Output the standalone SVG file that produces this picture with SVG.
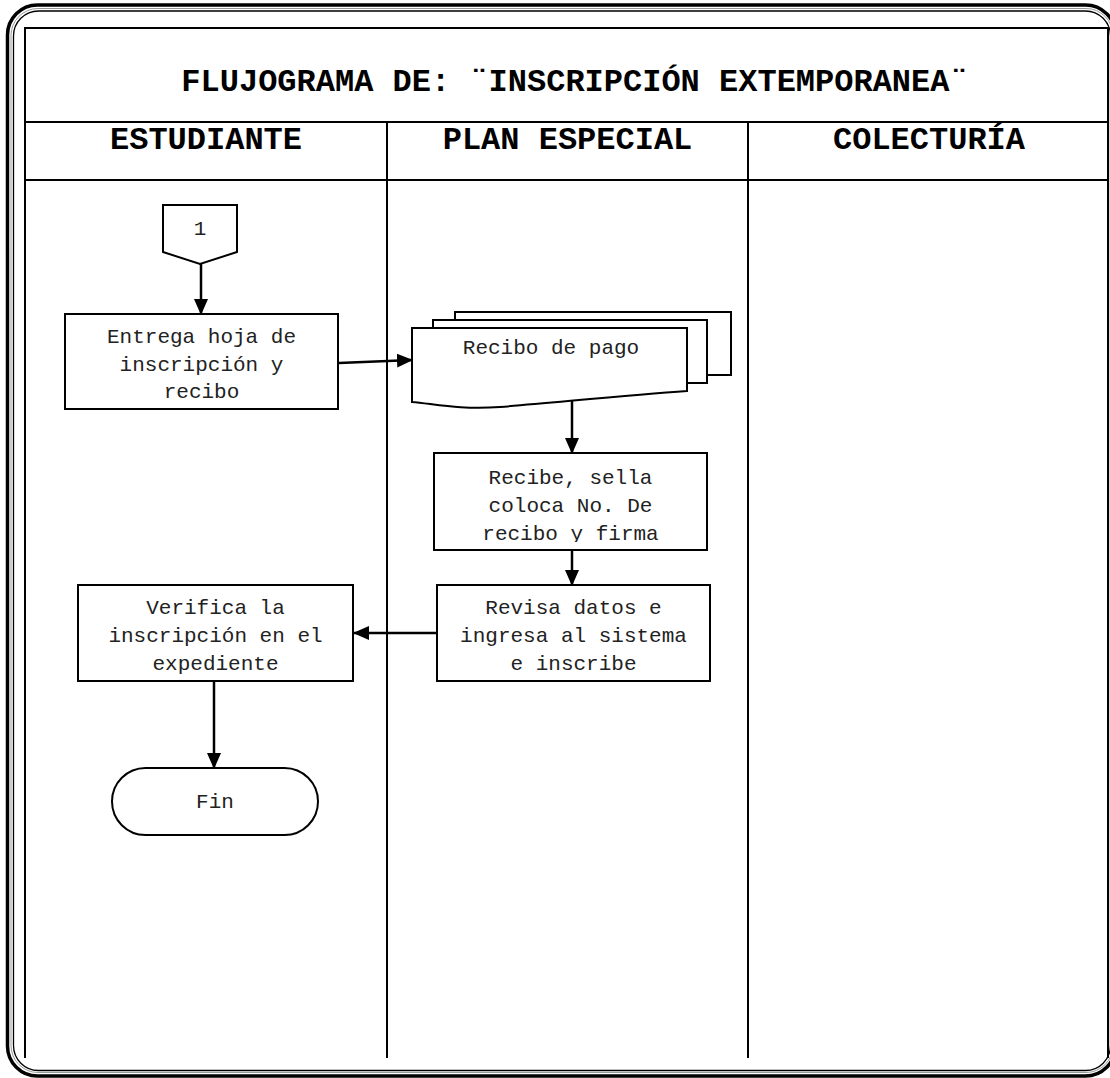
<svg xmlns="http://www.w3.org/2000/svg" width="1110" height="1078" viewBox="0 0 1110 1078">
  <style>
    .frame-outer { fill: none; stroke: #000; stroke-width: 3.5; }
    .frame-mid { fill: none; stroke: #999; stroke-width: 1; }
    .frame-inner { fill: none; stroke: #000; stroke-width: 1.3; }
    .grid { stroke: #000; stroke-width: 2; fill: none; }
    .box { fill: #fff; stroke: #000; stroke-width: 2; }
    .conn { fill: none; stroke: #000; stroke-width: 2.5; }
    .title { font-family: "Liberation Mono", "DejaVu Sans Mono", monospace; font-weight: bold; font-size: 32px; fill: #000; text-anchor: middle; }
    .label { font-family: "Liberation Mono", "DejaVu Sans Mono", monospace; font-size: 21px; fill: #222; text-anchor: middle; }
  </style>
  <defs>
    <marker id="arrow" markerUnits="userSpaceOnUse" markerWidth="16" markerHeight="16" viewBox="0 0 16 16" refX="15" refY="8" orient="auto">
      <path d="M0,1 L16,8 L0,15 Z" fill="#000"/>
    </marker>
    <clipPath id="clip-recibe"><rect x="434" y="453" width="273" height="89"/></clipPath>
    <clipPath id="clip-verifica"><rect x="78" y="585" width="275" height="90"/></clipPath>
  </defs>

  <rect width="1110" height="1078" fill="#fff"/>

  <!-- page border: double rounded frame, running off the right edge -->
  <rect class="frame-outer" x="7.5" y="5" width="1108" height="1071" rx="30" ry="30"/>
  <rect class="frame-mid" x="11" y="8.5" width="1102" height="1064" rx="27" ry="27"/>
  <rect class="frame-inner" x="13.5" y="11" width="1097" height="1059.5" rx="25" ry="25"/>

  <!-- swimlane table -->
  <g id="table">
    <path class="grid" d="M25,1058 V28 H1108 V1058"/>
    <path class="grid" d="M25,122 H1108 M25,180 H1108"/>
    <path class="grid" d="M387,122 V1058 M748,122 V1058"/>
    <text class="title" x="575" y="91">FLUJOGRAMA DE: ¨INSCRIPCIÓN EXTEMPORANEA¨</text>
    <text class="title" x="206" y="149">ESTUDIANTE</text>
    <text class="title" x="567.5" y="149">PLAN ESPECIAL</text>
    <text class="title" x="929" y="149">COLECTURÍA</text>
  </g>

  <!-- connectors -->
  <g id="connectors">
    <line class="conn" x1="201" y1="264" x2="201" y2="314" marker-end="url(#arrow)"/>
    <line class="conn" x1="339" y1="363" x2="412" y2="360" marker-end="url(#arrow)"/>
    <line class="conn" x1="572" y1="400" x2="572" y2="453" marker-end="url(#arrow)"/>
    <line class="conn" x1="572" y1="550" x2="572" y2="585" marker-end="url(#arrow)"/>
    <line class="conn" x1="437" y1="633" x2="354" y2="633" marker-end="url(#arrow)"/>
    <line class="conn" x1="214" y1="681" x2="214" y2="768" marker-end="url(#arrow)"/>
  </g>

  <!-- off-page connector -->
  <g id="node-connector-1">
    <path class="box" d="M163,205 H237 V252 L200,264 L163,252 Z"/>
    <text class="label" x="200" y="235">1</text>
  </g>

  <g id="node-entrega">
    <rect class="box" x="65" y="314" width="273" height="95"/>
    <text class="label" x="201.5" y="343">Entrega hoja de</text>
    <text class="label" x="201.5" y="371">inscripción y</text>
    <text class="label" x="201.5" y="398">recibo</text>
  </g>

  <!-- stacked documents -->
  <g id="node-recibo-pago">
    <rect class="box" x="455" y="312" width="276" height="63"/>
    <rect class="box" x="433" y="320" width="274" height="63"/>
    <path class="box" d="M412,328 H687 V391 C630,395 560,402 500,407 C460,410 435,404 412,402 Z"/>
    <text class="label" x="551" y="354">Recibo de pago</text>
  </g>

  <g id="node-recibe">
    <rect class="box" x="434" y="453" width="273" height="97"/>
    <g clip-path="url(#clip-recibe)">
      <text class="label" x="570.5" y="484">Recibe, sella</text>
      <text class="label" x="570.5" y="512">coloca No. De</text>
      <text class="label" x="570.5" y="540">recibo y firma</text>
    </g>
  </g>

  <g id="node-revisa">
    <rect class="box" x="437" y="585" width="273" height="96"/>
    <text class="label" x="573.5" y="614">Revisa datos e</text>
    <text class="label" x="573.5" y="642">ingresa al sistema</text>
    <text class="label" x="573.5" y="670">e inscribe</text>
  </g>

  <g id="node-verifica">
    <rect class="box" x="78" y="585" width="275" height="96"/>
    <g clip-path="url(#clip-verifica)">
      <text class="label" x="215.5" y="614">Verifica la</text>
      <text class="label" x="215.5" y="642">inscripción en el</text>
      <text class="label" x="215.5" y="670">expediente</text>
    </g>
  </g>

  <g id="node-fin">
    <rect class="box" x="112" y="768" width="206" height="67" rx="33.5" ry="33.5"/>
    <text class="label" x="215" y="808">Fin</text>
  </g>
</svg>
